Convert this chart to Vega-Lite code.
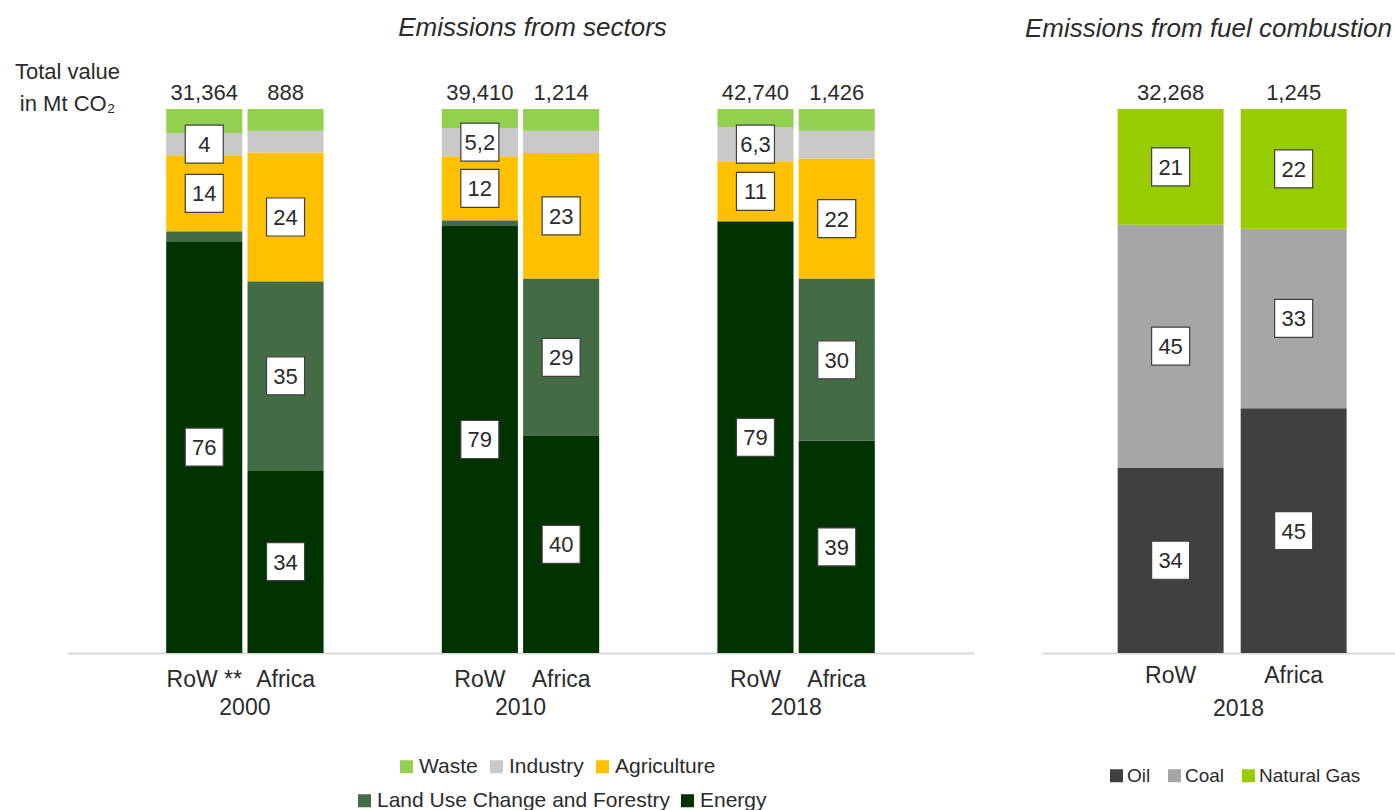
{
  "$schema": "https://vega.github.io/schema/vega-lite/v6.json",
  "background": "white",
  "padding": {"left": 14, "top": 15, "right": 0, "bottom": 0},
  "config": {
    "view": {"stroke": null},
    "font": "Liberation Sans",
    "text": {"font": "Liberation Sans", "color": "#2b2b2b"}
  },
  "datasets": {
    "sectors": [
      {"year": "2000", "region": "RoW", "sector": "Energy", "value": 75.7, "label": "76"},
      {"year": "2000", "region": "RoW", "sector": "Land Use Change and Forestry", "value": 1.8, "label": ""},
      {"year": "2000", "region": "RoW", "sector": "Agriculture", "value": 14.0, "label": "14"},
      {"year": "2000", "region": "RoW", "sector": "Industry", "value": 4.1, "label": "4"},
      {"year": "2000", "region": "RoW", "sector": "Waste", "value": 4.4, "label": ""},
      {"year": "2000", "region": "Africa", "sector": "Energy", "value": 33.6, "label": "34"},
      {"year": "2000", "region": "Africa", "sector": "Land Use Change and Forestry", "value": 34.7, "label": "35"},
      {"year": "2000", "region": "Africa", "sector": "Agriculture", "value": 23.7, "label": "24"},
      {"year": "2000", "region": "Africa", "sector": "Industry", "value": 4.0, "label": ""},
      {"year": "2000", "region": "Africa", "sector": "Waste", "value": 4.0, "label": ""},
      {"year": "2010", "region": "RoW", "sector": "Energy", "value": 78.5, "label": "79"},
      {"year": "2010", "region": "RoW", "sector": "Land Use Change and Forestry", "value": 1.0, "label": ""},
      {"year": "2010", "region": "RoW", "sector": "Agriculture", "value": 11.8, "label": "12"},
      {"year": "2010", "region": "RoW", "sector": "Industry", "value": 5.2, "label": "5,2"},
      {"year": "2010", "region": "RoW", "sector": "Waste", "value": 3.5, "label": ""},
      {"year": "2010", "region": "Africa", "sector": "Energy", "value": 39.9, "label": "40"},
      {"year": "2010", "region": "Africa", "sector": "Land Use Change and Forestry", "value": 28.9, "label": "29"},
      {"year": "2010", "region": "Africa", "sector": "Agriculture", "value": 23.1, "label": "23"},
      {"year": "2010", "region": "Africa", "sector": "Industry", "value": 4.1, "label": ""},
      {"year": "2010", "region": "Africa", "sector": "Waste", "value": 4.0, "label": ""},
      {"year": "2018", "region": "RoW", "sector": "Energy", "value": 79.3, "label": "79"},
      {"year": "2018", "region": "RoW", "sector": "Agriculture", "value": 11.1, "label": "11"},
      {"year": "2018", "region": "RoW", "sector": "Industry", "value": 6.3, "label": "6,3"},
      {"year": "2018", "region": "RoW", "sector": "Waste", "value": 3.3, "label": ""},
      {"year": "2018", "region": "Africa", "sector": "Energy", "value": 39.0, "label": "39"},
      {"year": "2018", "region": "Africa", "sector": "Land Use Change and Forestry", "value": 29.8, "label": "30"},
      {"year": "2018", "region": "Africa", "sector": "Agriculture", "value": 22.1, "label": "22"},
      {"year": "2018", "region": "Africa", "sector": "Industry", "value": 5.1, "label": ""},
      {"year": "2018", "region": "Africa", "sector": "Waste", "value": 4.0, "label": ""}
    ],
    "sectorTotals": [
      {"year": "2000", "region": "RoW", "regionLabel": "RoW **", "total": 31364},
      {"year": "2000", "region": "Africa", "regionLabel": "Africa", "total": 888},
      {"year": "2010", "region": "RoW", "regionLabel": "RoW", "total": 39410},
      {"year": "2010", "region": "Africa", "regionLabel": "Africa", "total": 1214},
      {"year": "2018", "region": "RoW", "regionLabel": "RoW", "total": 42740},
      {"year": "2018", "region": "Africa", "regionLabel": "Africa", "total": 1426}
    ],
    "fuels": [
      {"region": "RoW", "fuel": "Oil", "value": 34.1, "label": "34"},
      {"region": "RoW", "fuel": "Coal", "value": 44.6, "label": "45"},
      {"region": "RoW", "fuel": "Natural Gas", "value": 21.3, "label": "21"},
      {"region": "Africa", "fuel": "Oil", "value": 45.0, "label": "45"},
      {"region": "Africa", "fuel": "Coal", "value": 33.0, "label": "33"},
      {"region": "Africa", "fuel": "Natural Gas", "value": 22.0, "label": "22"}
    ],
    "fuelTotals": [
      {"region": "RoW", "total": 32268},
      {"region": "Africa", "total": 1245}
    ]
  },
  "resolve": {
    "scale": {"color": "independent", "fill": "independent", "y": "independent", "x": "independent", "xOffset": "independent"},
    "legend": {"color": "independent", "fill": "independent"}
  },
  "spacing": 50,
  "hconcat": [
    {
      "width": 907,
      "height": 544,
      "title": {"text": "Emissions from sectors", "font": "Liberation Sans", "fontStyle": "italic", "fontWeight": "normal", "fontSize": 26, "color": "#2b2b2b", "anchor": "middle", "frame": "group", "dx": 12, "baseline": "alphabetic", "offset": -2},
      "encoding": {
        "x": {
          "field": "year", "type": "nominal",
          "scale": {"paddingInner": 0.429, "paddingOuter": 0.36},
          "axis": {"title": null, "labelAngle": 0, "ticks": false, "labelPadding": 43, "labelFontSize": 23, "labelFont": "Liberation Sans", "labelColor": "#2b2b2b", "domainColor": "#d9d9d9", "domainWidth": 2, "grid": false}
        },
        "xOffset": {"field": "region", "type": "nominal", "sort": ["RoW", "Africa"], "scale": {"paddingInner": 0.064, "paddingOuter": 0}}
      },
      "layer": [
        {
          "data": {"name": "sectors"},
          "transform": [
            {"calculate": "indexof(['Energy','Land Use Change and Forestry','Agriculture','Industry','Waste'], datum.sector)", "as": "ord"},
            {"stack": "value", "groupby": ["year", "region"], "sort": [{"field": "ord", "order": "ascending"}], "as": ["v0", "v1"]},
            {"calculate": "(datum.v0 + datum.v1) / 2", "as": "mid"}
          ],
          "layer": [
            {
              "transform": [{"filter": {"field": "sector", "oneOf": ["Waste", "Industry", "Agriculture"]}}],
              "mark": {"type": "bar"},
              "encoding": {
                "y": {"field": "v0", "type": "quantitative", "scale": {"domain": [0, 100], "nice": false},
                  "axis": {"orient": "left", "labels": false, "ticks": false, "domain": false, "grid": false, "title": ["Total value", "in Mt CO₂"], "titleAngle": 0, "titleAlign": "center", "titleBaseline": "top", "titleX": 0, "titleY": -48, "titleFontSize": 22, "titleFontWeight": "normal", "titleFont": "Liberation Sans", "titleColor": "#2b2b2b", "titleLineHeight": 32}},
                "y2": {"field": "v1"},
                "fill": {"field": "sector", "type": "nominal",
                  "scale": {"domain": ["Waste", "Industry", "Agriculture"], "range": ["#92d050", "#c9c9c9", "#ffc000"]},
                  "legend": {"title": null, "orient": "none", "legendX": 329, "legendY": 647, "direction": "horizontal", "columns": 3, "symbolType": "square", "symbolSize": 169, "symbolStrokeWidth": 0, "labelFontSize": 21, "labelFont": "Liberation Sans", "labelColor": "#2b2b2b", "labelOffset": 2, "labelLimit": 500, "columnPadding": 8, "padding": 0}}
              }
            },
            {
              "transform": [{"filter": {"field": "sector", "oneOf": ["Land Use Change and Forestry", "Energy"]}}],
              "mark": {"type": "bar"},
              "encoding": {
                "y": {"field": "v0", "type": "quantitative",
                  "axis": {"orient": "left", "labels": false, "ticks": false, "domain": false, "grid": false, "title": ["Total value", "in Mt CO₂"], "titleAngle": 0, "titleAlign": "center", "titleBaseline": "top", "titleX": 0, "titleY": -48, "titleFontSize": 22, "titleFontWeight": "normal", "titleFont": "Liberation Sans", "titleColor": "#2b2b2b", "titleLineHeight": 32}},
                "y2": {"field": "v1"},
                "color": {"field": "sector", "type": "nominal",
                  "scale": {"domain": ["Land Use Change and Forestry", "Energy"], "range": ["#436b44", "#003300"]},
                  "legend": {"title": null, "orient": "none", "legendX": 287, "legendY": 681, "direction": "horizontal", "columns": 2, "symbolType": "square", "symbolSize": 169, "symbolStrokeWidth": 0, "labelFontSize": 21, "labelFont": "Liberation Sans", "labelColor": "#2b2b2b", "labelOffset": 2, "labelLimit": 500, "columnPadding": 6, "padding": 0}}
              }
            },
            {
              "transform": [{"filter": "datum.label != ''"}],
              "mark": {"type": "point", "shape": "square", "size": 1444, "filled": true, "fill": "white", "stroke": "#404040", "strokeWidth": 1.2, "opacity": 1},
              "encoding": {"y": {"field": "mid", "type": "quantitative",
                  "axis": {"orient": "left", "labels": false, "ticks": false, "domain": false, "grid": false, "title": ["Total value", "in Mt CO₂"], "titleAngle": 0, "titleAlign": "center", "titleBaseline": "top", "titleX": 0, "titleY": -48, "titleFontSize": 22, "titleFontWeight": "normal", "titleFont": "Liberation Sans", "titleColor": "#2b2b2b", "titleLineHeight": 32}}}
            },
            {
              "transform": [{"filter": "datum.label != ''"}],
              "mark": {"type": "text", "fontSize": 22, "baseline": "middle", "dy": 1},
              "encoding": {"y": {"field": "mid", "type": "quantitative",
                  "axis": {"orient": "left", "labels": false, "ticks": false, "domain": false, "grid": false, "title": ["Total value", "in Mt CO₂"], "titleAngle": 0, "titleAlign": "center", "titleBaseline": "top", "titleX": 0, "titleY": -48, "titleFontSize": 22, "titleFontWeight": "normal", "titleFont": "Liberation Sans", "titleColor": "#2b2b2b", "titleLineHeight": 32}},
                "text": {"field": "label"}}
            }
          ]
        },
        {
          "data": {"name": "sectorTotals"},
          "layer": [
            {
              "mark": {"type": "text", "fontSize": 22, "baseline": "alphabetic", "dy": -9},
              "encoding": {"y": {"datum": 100, "type": "quantitative",
                  "axis": {"orient": "left", "labels": false, "ticks": false, "domain": false, "grid": false, "title": ["Total value", "in Mt CO₂"], "titleAngle": 0, "titleAlign": "center", "titleBaseline": "top", "titleX": 0, "titleY": -48, "titleFontSize": 22, "titleFontWeight": "normal", "titleFont": "Liberation Sans", "titleColor": "#2b2b2b", "titleLineHeight": 32}},
                "text": {"field": "total", "type": "quantitative", "format": ","}}
            },
            {
              "mark": {"type": "text", "fontSize": 23, "baseline": "alphabetic", "dy": 34},
              "encoding": {"y": {"datum": 0, "type": "quantitative",
                  "axis": {"orient": "left", "labels": false, "ticks": false, "domain": false, "grid": false, "title": ["Total value", "in Mt CO₂"], "titleAngle": 0, "titleAlign": "center", "titleBaseline": "top", "titleX": 0, "titleY": -48, "titleFontSize": 22, "titleFontWeight": "normal", "titleFont": "Liberation Sans", "titleColor": "#2b2b2b", "titleLineHeight": 32}},
                "text": {"field": "regionLabel"}}
            }
          ]
        }
      ]
    },
    {
      "width": 353,
      "height": 544,
      "title": {"text": "Emissions from fuel combustion", "font": "Liberation Sans", "fontStyle": "italic", "fontWeight": "normal", "fontSize": 26, "color": "#2b2b2b", "anchor": "end", "frame": "group", "dx": -3, "baseline": "alphabetic", "offset": 19},
      "encoding": {
        "x": {
          "field": "region", "type": "nominal", "sort": ["RoW", "Africa"],
          "scale": {"paddingInner": 0.139, "paddingOuter": 0.504, "align": 0.61},
          "axis": {"title": "2018", "titleX": 196, "titleY": 44, "titleBaseline": "top", "titleAlign": "center", "titleFontSize": 23, "titleFontWeight": "normal", "titleFont": "Liberation Sans", "titleColor": "#2b2b2b", "labelAngle": 0, "ticks": false, "labelPadding": 11, "labelFontSize": 23, "labelFont": "Liberation Sans", "labelColor": "#2b2b2b", "domainColor": "#d9d9d9", "domainWidth": 2, "grid": false}
        }
      },
      "layer": [
        {
          "data": {"name": "fuels"},
          "transform": [
            {"calculate": "indexof(['Oil','Coal','Natural Gas'], datum.fuel)", "as": "ord"},
            {"stack": "value", "groupby": ["region"], "sort": [{"field": "ord", "order": "ascending"}], "as": ["v0", "v1"]},
            {"calculate": "(datum.v0 + datum.v1) / 2", "as": "mid"}
          ],
          "layer": [
            {
              "mark": {"type": "bar"},
              "encoding": {
                "y": {"field": "v0", "type": "quantitative", "scale": {"domain": [0, 100], "nice": false}, "axis": null},
                "y2": {"field": "v1"},
                "color": {"field": "fuel", "type": "nominal",
                  "scale": {"domain": ["Oil", "Coal", "Natural Gas"], "range": ["#404040", "#a6a6a6", "#99cc00"]},
                  "legend": {"title": null, "orient": "none", "legendX": 65, "legendY": 657, "direction": "horizontal", "columns": 3, "symbolType": "square", "symbolSize": 169, "symbolStrokeWidth": 0, "labelFontSize": 19, "labelFont": "Liberation Sans", "labelColor": "#2b2b2b", "labelOffset": 1, "labelLimit": 500, "columnPadding": 14, "padding": 0}}
              }
            },
            {
              "mark": {"type": "point", "shape": "square", "size": 1444, "filled": true, "fill": "white", "stroke": "#404040", "strokeWidth": 1.2, "opacity": 1},
              "encoding": {"y": {"field": "mid", "type": "quantitative", "axis": null}}
            },
            {
              "mark": {"type": "text", "fontSize": 22, "baseline": "middle", "dy": 1},
              "encoding": {"y": {"field": "mid", "type": "quantitative", "axis": null}, "text": {"field": "label"}}
            }
          ]
        },
        {
          "data": {"name": "fuelTotals"},
          "mark": {"type": "text", "fontSize": 22, "baseline": "alphabetic", "dy": -9},
          "encoding": {"y": {"datum": 100, "type": "quantitative", "axis": null}, "text": {"field": "total", "type": "quantitative", "format": ","}}
        }
      ]
    }
  ]
}
